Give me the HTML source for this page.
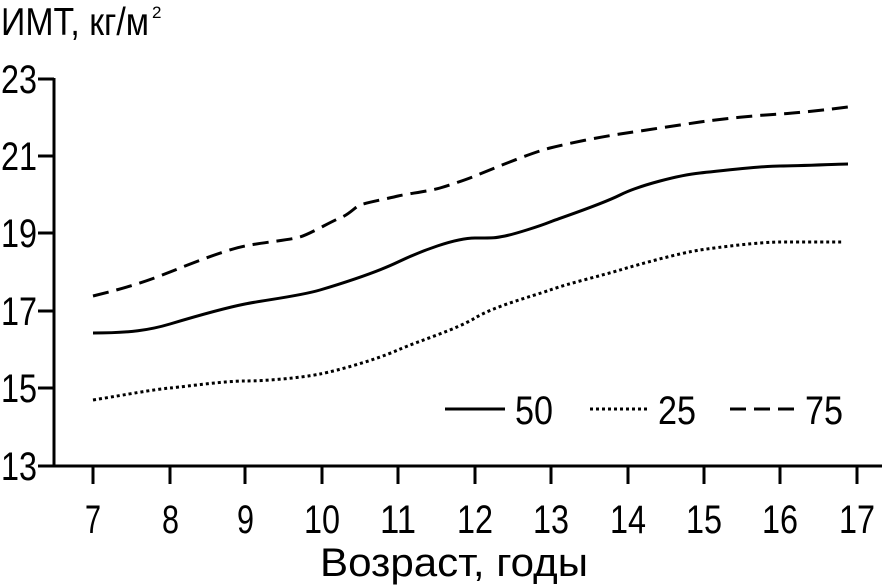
<!DOCTYPE html>
<html><head><meta charset="utf-8"><style>body{margin:0;background:#fff}svg{display:block}</style></head>
<body>
<svg width="888" height="588" viewBox="0 0 888 588" xmlns="http://www.w3.org/2000/svg" font-family="Liberation Sans, sans-serif" fill="#000">
<text x="1" y="35" font-size="39" textLength="148" lengthAdjust="spacingAndGlyphs">ИМТ, кг/м</text>
<text x="152" y="18" font-size="17">2</text>
<g stroke="#000" stroke-width="3" fill="none">
<line x1="54" y1="78" x2="54" y2="467"/>
<line x1="53" y1="466" x2="882" y2="466"/>
<line x1="38" y1="79" x2="54" y2="79"/>
<line x1="38" y1="156" x2="54" y2="156"/>
<line x1="38" y1="233" x2="54" y2="233"/>
<line x1="38" y1="311" x2="54" y2="311"/>
<line x1="38" y1="388" x2="54" y2="388"/>
<line x1="38" y1="466" x2="54" y2="466"/>
<g>
<line x1="93" y1="466" x2="93" y2="484"/><line x1="170" y1="466" x2="170" y2="484"/><line x1="245" y1="466" x2="245" y2="484"/><line x1="322" y1="466" x2="322" y2="484"/><line x1="398" y1="466" x2="398" y2="484"/><line x1="475" y1="466" x2="475" y2="484"/><line x1="551" y1="466" x2="551" y2="484"/><line x1="628" y1="466" x2="628" y2="484"/><line x1="704" y1="466" x2="704" y2="484"/><line x1="780" y1="466" x2="780" y2="484"/><line x1="857" y1="466" x2="857" y2="484"/>
</g>
<path d="M93,333 C130,333 150,330 170,324 S225,308 245,304 S300,296 320,290 S375,273 398,262 S455,238 475,238 S495,238 505,236 S540,226 550,222 S600,205 620,195 S680,175 700,173 S760,166 780,166 S840,164 848,164"/>
<path stroke-dasharray="3,3" d="M93,400 C130,394 150,390 170,388 S225,381 245,381 S300,378 320,374 S375,360 398,350 S455,330 475,318 S530,297 550,290 S600,276 620,270 S680,253 700,250 S760,242 780,242 S843,242 843,242"/>
<path stroke-dasharray="16,8" d="M93,296 C130,287 150,280 170,272 S225,250 245,246 S290,240 300,237 S330,222 340,218 S355,207 360,205 S390,198 398,196 S430,191 440,188 S465,180 475,176 S530,153 550,148 S600,137 620,134 S680,125 700,122 S760,115 780,114 S840,108 848,107"/>
<line x1="445" y1="409" x2="505" y2="409"/>
<line x1="590" y1="409" x2="650" y2="409" stroke-dasharray="3,3"/>
<line x1="730" y1="409" x2="800" y2="409" stroke-dasharray="16,8"/>
</g>
<g font-size="40">
<text x="515" y="424" textLength="38" lengthAdjust="spacingAndGlyphs">50</text>
<text x="658" y="424" textLength="38" lengthAdjust="spacingAndGlyphs">25</text>
<text x="805" y="424" textLength="38" lengthAdjust="spacingAndGlyphs">75</text>
</g>
<g font-size="40" text-anchor="end">
<text x="37" y="93" textLength="36" lengthAdjust="spacingAndGlyphs">23</text>
<text x="37" y="170" textLength="36" lengthAdjust="spacingAndGlyphs">21</text>
<text x="37" y="247" textLength="36" lengthAdjust="spacingAndGlyphs">19</text>
<text x="37" y="325" textLength="36" lengthAdjust="spacingAndGlyphs">17</text>
<text x="37" y="402" textLength="36" lengthAdjust="spacingAndGlyphs">15</text>
<text x="37" y="480" textLength="36" lengthAdjust="spacingAndGlyphs">13</text>
</g>
<g font-size="40">
<text x="85" y="533" textLength="16" lengthAdjust="spacingAndGlyphs">7</text><text x="162" y="533" textLength="17" lengthAdjust="spacingAndGlyphs">8</text><text x="237" y="533" textLength="17" lengthAdjust="spacingAndGlyphs">9</text>
<text x="304" y="533" textLength="36" lengthAdjust="spacingAndGlyphs">10</text><text x="380" y="533" textLength="36" lengthAdjust="spacingAndGlyphs">11</text><text x="457" y="533" textLength="36" lengthAdjust="spacingAndGlyphs">12</text><text x="533" y="533" textLength="36" lengthAdjust="spacingAndGlyphs">13</text><text x="610" y="533" textLength="36" lengthAdjust="spacingAndGlyphs">14</text><text x="686" y="533" textLength="36" lengthAdjust="spacingAndGlyphs">15</text><text x="762" y="533" textLength="36" lengthAdjust="spacingAndGlyphs">16</text><text x="839" y="533" textLength="36" lengthAdjust="spacingAndGlyphs">17</text>
</g>
<text x="320" y="576" font-size="40" textLength="268" lengthAdjust="spacingAndGlyphs">Возраст, годы</text>
</svg>
</body></html>
